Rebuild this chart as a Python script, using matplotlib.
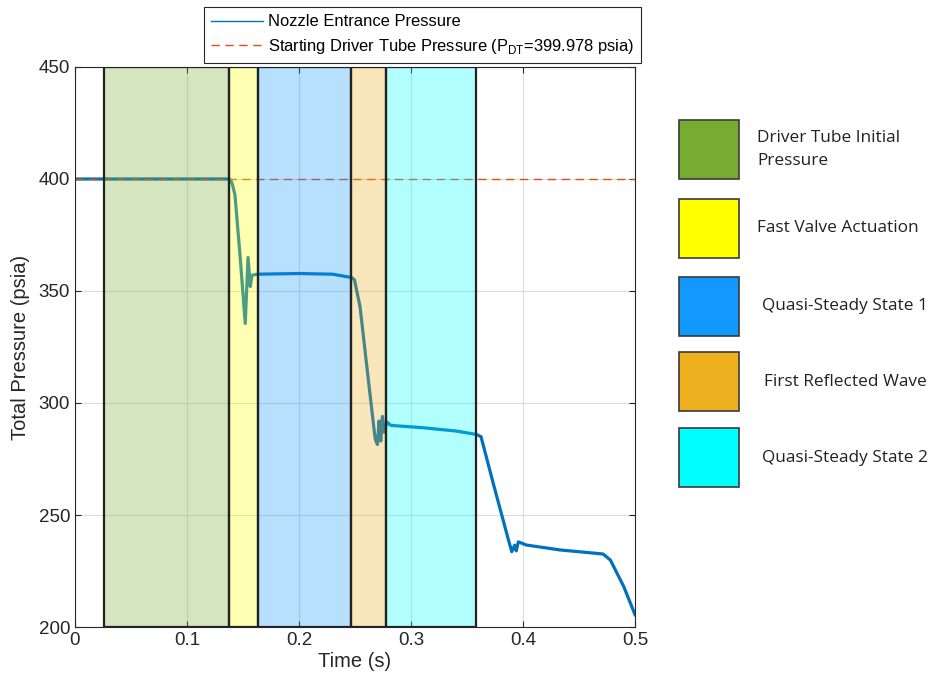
import matplotlib
matplotlib.use("Agg")
import matplotlib.pyplot as plt
from matplotlib.patches import Rectangle

plt.rcParams['font.family'] = ['Liberation Sans', 'DejaVu Sans']

# nozzle entrance pressure trace (s, psia)
time = [0.0, 0.138, 0.1395, 0.1408, 0.1428, 0.1475, 0.152, 0.1545, 0.1565, 0.158,
        0.1625, 0.20, 0.23, 0.247, 0.2495, 0.2545, 0.262, 0.268, 0.270, 0.2715,
        0.273, 0.2745, 0.276, 0.2785, 0.282, 0.31, 0.34, 0.358, 0.3625, 0.3735,
        0.387, 0.390, 0.3925, 0.394, 0.3958, 0.403, 0.433, 0.4714, 0.478, 0.49, 0.5]
pressure = [400.0, 400.0, 399.0, 397.0, 393.0, 365.0, 335.5, 365.0, 352.0, 357.0,
            357.5, 357.8, 357.5, 356.0, 355.0, 343.0, 310.0, 284.0, 281.5, 292.0,
            283.0, 294.0, 287.0, 291.5, 290.0, 289.0, 287.5, 286.0, 285.0, 264.0,
            238.9, 233.6, 236.5, 234.0, 238.0, 236.6, 234.4, 232.6, 229.9, 218.0, 205.5]

p_dt = 399.978

# test phases: start/end time of each shaded window
phase_names = ["Driver Tube Initial\nPressure", "Fast Valve Actuation",
               "Quasi-Steady State 1", "First Reflected Wave", "Quasi-Steady State 2"]
phase_start = [0.0259, 0.1375, 0.1634, 0.2464, 0.2777]
phase_end = [0.1375, 0.1634, 0.2464, 0.2777, 0.358]
phase_colors = ["#77ac30", "#ffff00", "#1199ff", "#edb120", "#00ffff"]

fig = plt.figure(figsize=(9.3, 6.86), dpi=100)
ax = fig.add_axes([75 / 930, 59 / 686, 560 / 930, 560 / 686])

line, = ax.plot(time, pressure, color="#0072bd", lw=2.3, zorder=2,
                label="Nozzle Entrance Pressure")
dash, = ax.plot([0, 0.5], [p_dt, p_dt], color="#d95319", lw=1.0, ls=(0, (6, 4)),
                zorder=2, label="Starting Driver Tube Pressure (P$_\\mathregular{DT}$=399.978 psia)")

# translucent phase windows over the trace
for s, e, c in zip(phase_start, phase_end, phase_colors):
    ax.add_patch(Rectangle((s, 200), e - s, 250, facecolor=matplotlib.colors.to_rgba(c, 0.3),
                           edgecolor="#222222", lw=1.6, zorder=3))

ax.set_xlim(0, 0.5)
ax.set_ylim(200, 450)
ax.set_xticks([0, 0.1, 0.2, 0.3, 0.4, 0.5])
ax.set_xticklabels(["0", "0.1", "0.2", "0.3", "0.4", "0.5"])
ax.set_yticks([200, 250, 300, 350, 400, 450])
ax.grid(True, color="#dcdcdc", lw=0.8, zorder=1)
ax.set_axisbelow(True)
ax.tick_params(direction="in", top=True, right=True, labelsize=13.5,
               colors="#262626", length=4)
for sp in ax.spines.values():
    sp.set_color("#262626")
    sp.set_linewidth(0.8)
ax.set_xlabel("Time (s)", fontsize=14.5, color="#262626", labelpad=2)
ax.set_ylabel("Total Pressure (psia)", fontsize=14.5, color="#262626", labelpad=6)

leg = fig.legend(handles=[line, dash], loc="upper left",
                 bbox_to_anchor=(204 / 930, 1 - 7 / 686), borderaxespad=0,
                 fontsize=11.9, handlelength=3.1, handletextpad=0.3,
                 labelspacing=0.45, borderpad=0.45, fancybox=False,
                 edgecolor="#262626", framealpha=1)
leg.get_frame().set_linewidth(0.8)
for h in leg.get_lines():
    h.set_linewidth(1.0)

# phase key on the right
box_top = [120, 199, 277, 352, 428]
text_x = [757, 757, 762, 764, 762]
for top, tx, name, c in zip(box_top, text_x, phase_names, phase_colors):
    fig.patches.append(Rectangle((679 / 930, 1 - (top + 59) / 686), 60 / 930, 59 / 686,
                                 transform=fig.transFigure, facecolor=c,
                                 edgecolor="#3a3a3a", lw=1.2))
    fig.text(tx / 930, 1 - (top + 29.5) / 686, name, fontsize=12.4, family="Open Sans",
             va="center", ha="left", color="#222222", linespacing=1.6)

fig.savefig("out.png", dpi=100)
